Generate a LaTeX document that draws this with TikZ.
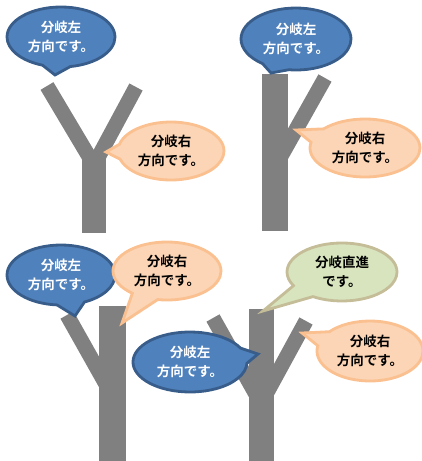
\documentclass[tikz,border=0pt]{standalone}
\usepackage{fontspec}
\newfontfamily\jpfont{Noto Sans CJK JP}[BoldFont={Noto Sans CJK JP Bold}]
\usetikzlibrary{shapes.callouts}
\definecolor{bluefill}{HTML}{4F81BD}
\definecolor{blueline}{HTML}{385D8A}
\definecolor{orangefill}{HTML}{FBD5B5}
\definecolor{orangeline}{HTML}{FAC090}
\definecolor{greenfill}{HTML}{D7E4BD}
\definecolor{greenline}{HTML}{C4BD97}
\definecolor{treegray}{HTML}{808080}
\begin{document}
\begin{tikzpicture}[ x=1pt, y=-1pt,
  bubble/.style={ellipse callout, callout pointer arc=30, line width=2.8pt, inner sep=0pt,
    align=center, font=\jpfont\bfseries\fontsize{13.5}{19}\selectfont},
  leftbubble/.style={bubble, draw=blueline, fill=bluefill, text=white},
  rightbubble/.style={bubble, draw=orangeline, fill=orangefill, text=black},
  straightbubble/.style={bubble, draw=greenline, fill=greenfill, text=black},
  branch/.style={treegray, line width=15pt},
  trunk/.style={fill=treegray},
]
\useasboundingbox (0,0) rectangle (422,461);

% tree 1
\draw[branch] (47,86) -- (94,165);
\draw[branch] (136,87) -- (94,165);
\fill[trunk] (82,150) rectangle (106,233);
% tree 2
\draw[branch] (325,78) -- (280,158);
\fill[trunk] (262,74) rectangle (288,231);
% tree 3
\draw[branch] (67,315) -- (112,395);
\fill[trunk] (99,306) rectangle (126,461);
% tree 4
\draw[branch] (213,318) -- (258,398);
\draw[branch] (306,321) -- (264,398);
\fill[trunk] (249,309) rectangle (274,461);

\coordinate (tipA1) at (55,75);
\coordinate (tipA2) at (106,152);
\coordinate (tipB1) at (271,73);
\coordinate (tipB2) at (296,130);
\coordinate (tipC1) at (75,316);
\coordinate (tipC2) at (122,323);
\coordinate (tipD1) at (263,311);
\coordinate (tipD2) at (258,354);
\coordinate (tipD3) at (302,333);

\node[leftbubble, minimum width=108pt, minimum height=60pt, callout absolute pointer={(tipA1)}] (leftA) at (61,37) {分岐左\\方向です。};
\node[rightbubble, minimum width=106pt, minimum height=58pt, callout absolute pointer={(tipA2)}] (rightA) at (171,151) {分岐右\\方向です。};

\node[leftbubble, minimum width=110pt, minimum height=62pt, callout absolute pointer={(tipB1)}] (leftB) at (296,39) {分岐左\\方向です。};
\node[rightbubble, minimum width=110pt, minimum height=58pt, callout absolute pointer={(tipB2)}] (rightB) at (365,148) {分岐右\\方向です。};

\node[leftbubble, minimum width=108pt, minimum height=60pt, callout absolute pointer={(tipC1)}] (leftC) at (61,275) {分岐左\\方向です。};
\node[rightbubble, minimum width=108pt, minimum height=58pt, callout absolute pointer={(tipC2)}] (rightC) at (167,271) {分岐右\\方向です。};

\node[straightbubble, minimum width=110pt, minimum height=58pt, callout absolute pointer={(tipD1)}] (straightD) at (342,272) {分岐直進\\です。};
\node[leftbubble, minimum width=114pt, minimum height=60pt, callout absolute pointer={(tipD2)}] (leftD) at (190,362) {分岐左\\方向です。};
\node[rightbubble, minimum width=106pt, minimum height=60pt, callout absolute pointer={(tipD3)}] (rightD) at (370,351) {分岐右\\方向です。};

\end{tikzpicture}
\end{document}
